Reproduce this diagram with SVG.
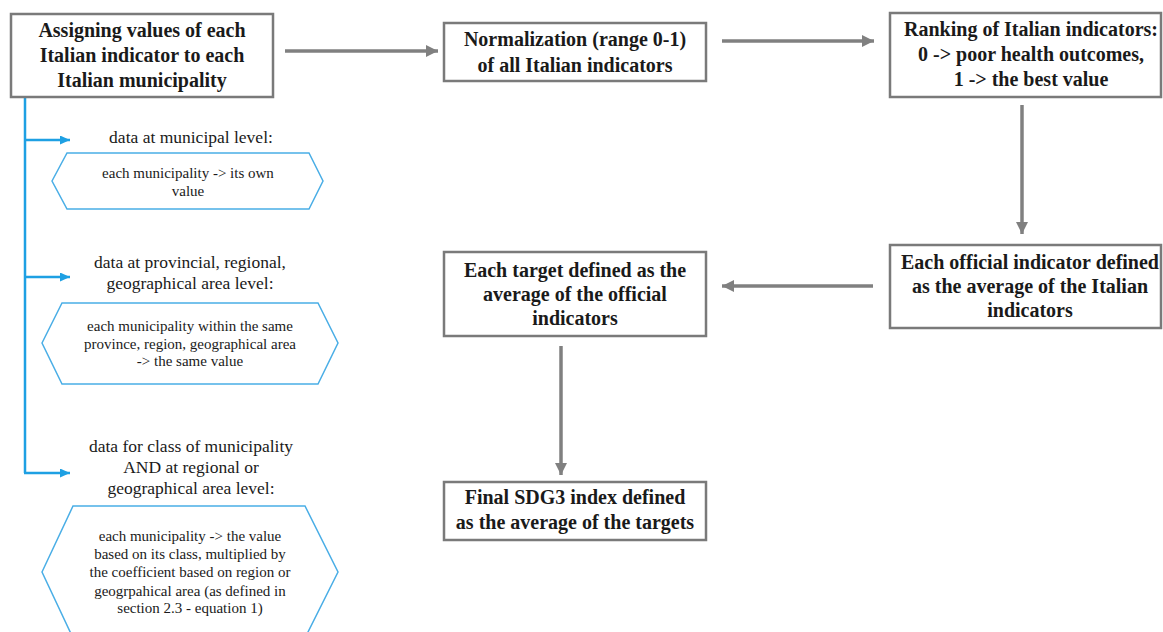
<svg xmlns="http://www.w3.org/2000/svg" width="1163" height="632" viewBox="0 0 1163 632">
<style>
.box{fill:#fff;stroke:#7a7a7a;stroke-width:2.5}
.bt{font-family:'Liberation Serif','DejaVu Serif',serif;font-weight:bold;font-size:20px;fill:#1a1a1a;text-anchor:middle}
.lbl{font-family:'Liberation Serif','DejaVu Serif',serif;font-size:17.5px;fill:#1a1a1a;text-anchor:middle}
.ht{font-family:'Liberation Serif','DejaVu Serif',serif;font-size:15px;fill:#1a1a1a;text-anchor:middle}
.hex{fill:#fff;stroke:#4aaee6;stroke-width:1.5}
.ga{fill:none;stroke:#808080;stroke-width:3.5;marker-end:url(#gh)}
.ba{fill:none;stroke:#1ea0e3;stroke-width:2.5}
.bb{fill:none;stroke:#1ea0e3;stroke-width:2.5;marker-end:url(#bh)}
</style>
<defs>
<marker id="gh" markerUnits="userSpaceOnUse" markerWidth="14" markerHeight="14" refX="12" refY="6" orient="auto">
<path d="M0,0 L12,6 L0,12 Z" fill="#808080"/>
</marker>
<marker id="bh" markerUnits="userSpaceOnUse" markerWidth="12" markerHeight="12" refX="10" refY="4.5" orient="auto">
<path d="M0,0 L10,4.5 L0,9 Z" fill="#1ea0e3"/>
</marker>
</defs>
<rect width="1163" height="632" fill="#fff"/>
<g id="connectors">
<line class="ga" x1="285" y1="51" x2="438" y2="51"/>
<line class="ga" x1="722" y1="41" x2="874" y2="41"/>
<line class="ga" x1="1022" y1="105" x2="1022" y2="234"/>
<line class="ga" x1="873" y1="286" x2="722" y2="286"/>
<line class="ga" x1="561" y1="346" x2="561" y2="475"/>
<polyline class="ba" points="25,97 25,473"/>
<polyline class="bb" points="24,140 70,140"/>
<polyline class="bb" points="24,277 70,277"/>
<polyline class="bb" points="24,473 70,473"/>
</g>
<g id="n1">
<rect class="box" x="11" y="14" width="262" height="83"/>
<text class="bt" x="142" y="37">Assigning values of each</text>
<text class="bt" x="142" y="62">Italian indicator to each</text>
<text class="bt" x="142" y="87">Italian municipality</text>
</g>
<g id="n2">
<rect class="box" x="444" y="23" width="262" height="58"/>
<text class="bt" x="575" y="46">Normalization (range 0-1)</text>
<text class="bt" x="575" y="72">of all Italian indicators</text>
</g>
<g id="n3">
<rect class="box" x="890" y="13" width="271" height="84"/>
<text class="bt" x="1031" y="36">Ranking of Italian indicators:</text>
<text class="bt" x="1031" y="61">0 -&gt; poor health outcomes,</text>
<text class="bt" x="1031" y="86">1 -&gt; the best value</text>
</g>
<g id="n4">
<rect class="box" x="890" y="245" width="271" height="83"/>
<text class="bt" x="1030" y="269">Each official indicator defined</text>
<text class="bt" x="1030" y="293">as the average of the Italian</text>
<text class="bt" x="1030" y="317">indicators</text>
</g>
<g id="n5">
<rect class="box" x="444" y="252" width="262" height="84"/>
<text class="bt" x="575" y="277">Each target defined as the</text>
<text class="bt" x="575" y="301">average of the official</text>
<text class="bt" x="575" y="325">indicators</text>
</g>
<g id="n6">
<rect class="box" x="444" y="482" width="262" height="58"/>
<text class="bt" x="575" y="504">Final SDG3 index defined</text>
<text class="bt" x="575" y="529">as the average of the targets</text>
</g>
<g id="l1">
<text class="lbl" x="191" y="143">data at municipal level:</text>
</g>
<g id="h1">
<polygon class="hex" points="52,181 67,153 309,153 323,181 309,209 67,209"/>
<text class="ht" x="188" y="178">each municipality -&gt; its own</text>
<text class="ht" x="188" y="196">value</text>
</g>
<g id="l2">
<text class="lbl" x="190" y="268">data at provincial, regional,</text>
<text class="lbl" x="190" y="289">geographical area level:</text>
</g>
<g id="h2">
<polygon class="hex" points="42,343 62,303 318,303 338,343 318,384 62,384"/>
<text class="ht" x="190" y="331">each municipality within the same</text>
<text class="ht" x="190" y="349">province, region, geographical area</text>
<text class="ht" x="190" y="366">-&gt; the same value</text>
</g>
<g id="l3">
<text class="lbl" x="191" y="452">data for class of municipality</text>
<text class="lbl" x="191" y="473">AND at regional or</text>
<text class="lbl" x="191" y="494">geographical area level:</text>
</g>
<g id="h3">
<polygon class="hex" points="42,572 73,506 305,506 338,572 305,638 73,638"/>
<text class="ht" x="190" y="541">each municipality -&gt; the value</text>
<text class="ht" x="190" y="559">based on its class, multiplied by</text>
<text class="ht" x="190" y="577">the coefficient based on region or</text>
<text class="ht" x="190" y="596">geogrpahical area (as defined in</text>
<text class="ht" x="190" y="613">section 2.3 - equation 1)</text>
</g>
</svg>
